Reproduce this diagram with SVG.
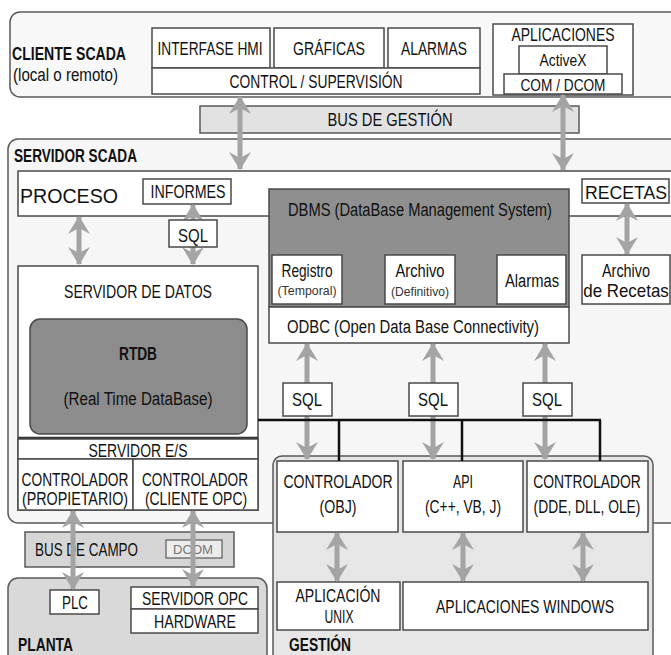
<svg xmlns="http://www.w3.org/2000/svg" width="671" height="655" viewBox="0 0 671 655">
<defs>
<style>
text{font-family:"Liberation Sans Narrow","Liberation Sans",Arial,sans-serif;font-size:18px;fill:#111}
.b{font-weight:bold}
.c{text-anchor:middle}
.s{font-size:13px;fill:#333}
.box{fill:#ffffff;stroke:#4a4a4a;stroke-width:1.5}
.panel{stroke:#5a5a5a;stroke-width:1.5}
.arr{stroke:#a4a4a4;stroke-width:5;fill:none;marker-start:url(#ah);marker-end:url(#ah)}
.bus{stroke:#111;stroke-width:2.5;fill:none}
</style>
<marker id="ah" viewBox="0 0 18 24" refX="17" refY="12" markerWidth="18" markerHeight="24" markerUnits="userSpaceOnUse" orient="auto-start-reverse">
<path d="M0,1 L18,12 L0,23 L6,12 z" fill="#a4a4a4"/>
</marker>
</defs>
<rect width="671" height="655" fill="#ffffff"/>

<g id="cliente-scada">
<rect class="panel" x="10" y="12" width="690" height="85" rx="10" fill="#f8f8f8"/>
<text class="b" x="12" y="60" textLength="114" lengthAdjust="spacingAndGlyphs">CLIENTE SCADA</text>
<text x="13" y="81" textLength="105" lengthAdjust="spacingAndGlyphs">(local o remoto)</text>
</g>
<g id="interfase-hmi">
<rect class="box" x="152" y="28" width="118" height="40"/>
<text class="c" x="210" y="55" textLength="105" lengthAdjust="spacingAndGlyphs">INTERFASE HMI</text>
</g>
<g id="graficas">
<rect class="box" x="274" y="28" width="110" height="40"/>
<text class="c" x="329" y="55" textLength="72" lengthAdjust="spacingAndGlyphs">GRÁFICAS</text>
</g>
<g id="alarmas-hmi">
<rect class="box" x="388" y="28" width="92" height="40"/>
<text class="c" x="434" y="55" textLength="66" lengthAdjust="spacingAndGlyphs">ALARMAS</text>
</g>
<g id="control-supervision">
<rect class="box" x="152" y="68" width="328" height="26"/>
<text class="c" x="316" y="88" textLength="173" lengthAdjust="spacingAndGlyphs">CONTROL / SUPERVISIÓN</text>
</g>
<g id="aplicaciones">
<rect class="box" x="493" y="24" width="140" height="71"/>
<text class="c" x="563" y="41" textLength="103" lengthAdjust="spacingAndGlyphs">APLICACIONES</text>
<rect class="box" x="519" y="46" width="88" height="28"/>
<text class="c" x="563" y="66" style="font-size:16px" textLength="47" lengthAdjust="spacingAndGlyphs">ActiveX</text>
<rect class="box" x="504" y="74" width="118" height="20"/>
<text class="c" x="563" y="91" style="font-size:16px" textLength="85" lengthAdjust="spacingAndGlyphs">COM / DCOM</text>
</g>

<g id="bus-gestion">
<rect x="200" y="106" width="379" height="27" fill="#e2e2e2" stroke="#5a5a5a" stroke-width="1.5"/>
<text class="c" x="390" y="126" textLength="125" lengthAdjust="spacingAndGlyphs">BUS DE GESTIÓN</text>
</g>

<g id="servidor-scada">
<rect class="panel" x="8" y="139" width="700" height="384" rx="10" fill="#f6f6f6"/>
<text class="b" x="14" y="162" textLength="123" lengthAdjust="spacingAndGlyphs">SERVIDOR SCADA</text>
</g>
<g id="proceso">
<rect class="box" x="18" y="171" width="680" height="45"/>
<text x="20" y="203" style="font-family:'Liberation Sans',Arial,sans-serif;font-size:21px" textLength="98" lengthAdjust="spacingAndGlyphs">PROCESO</text>
</g>
<g id="informes">
<rect class="box" x="143" y="179" width="88" height="25"/>
<text class="c" x="188" y="198" textLength="75" lengthAdjust="spacingAndGlyphs">INFORMES</text>
</g>
<g id="recetas">
<rect class="box" x="582" y="179" width="87" height="24"/>
<text class="c" x="626" y="199" textLength="82" lengthAdjust="spacingAndGlyphs">RECETAS</text>
</g>
<g id="archivo-recetas">
<rect class="box" x="582" y="255" width="88" height="49"/>
<text class="c" x="626" y="277" textLength="48" lengthAdjust="spacingAndGlyphs">Archivo</text>
<text class="c" transform="translate(626,297) scale(0.93,1)" x="0" y="0" textLength="92" lengthAdjust="spacingAndGlyphs">de Recetas</text>
</g>

<g id="dbms">
<rect x="269" y="189" width="300" height="118" fill="#8f8f8f" stroke="#4a4a4a" stroke-width="1.5"/>
<text class="c" x="420" y="216" textLength="264" lengthAdjust="spacingAndGlyphs">DBMS (DataBase Management System)</text>
</g>
<g id="registro">
<rect class="box" x="272" y="255" width="70" height="49"/>
<text class="c" x="307" y="277" textLength="51" lengthAdjust="spacingAndGlyphs">Registro</text>
<text class="c s" x="307" y="295" textLength="59" lengthAdjust="spacingAndGlyphs">(Temporal)</text>
</g>
<g id="archivo">
<rect class="box" x="385" y="255" width="70" height="49"/>
<text class="c" x="420" y="277" textLength="49" lengthAdjust="spacingAndGlyphs">Archivo</text>
<text class="c s" x="420" y="296" textLength="58" lengthAdjust="spacingAndGlyphs">(Definitivo)</text>
</g>
<g id="alarmas-db">
<rect class="box" x="497" y="255" width="69" height="49"/>
<text class="c" x="532" y="287" textLength="54" lengthAdjust="spacingAndGlyphs">Alarmas</text>
</g>
<g id="odbc">
<rect class="box" x="269" y="307" width="300" height="36"/>
<text class="c" x="413" y="333" textLength="252" lengthAdjust="spacingAndGlyphs">ODBC (Open Data Base Connectivity)</text>
</g>

<g id="servidor-datos">
<rect class="box" x="18" y="266" width="240" height="244"/>
<text class="c" x="138" y="298" textLength="148" lengthAdjust="spacingAndGlyphs">SERVIDOR DE DATOS</text>
</g>
<g id="rtdb">
<rect x="30" y="319" width="217" height="115" rx="10" fill="#8c8c8c" stroke="#4a4a4a" stroke-width="1.5"/>
<text class="c b" x="138" y="360" textLength="38" lengthAdjust="spacingAndGlyphs">RTDB</text>
<text class="c" x="138" y="405" textLength="149" lengthAdjust="spacingAndGlyphs">(Real Time DataBase)</text>
</g>
<g id="servidor-es">
<line x1="18" y1="438" x2="258" y2="438" stroke="#333" stroke-width="2.5"/>
<rect class="box" x="18" y="439" width="240" height="20"/>
<text class="c" x="138" y="457" textLength="99" lengthAdjust="spacingAndGlyphs">SERVIDOR E/S</text>
</g>
<g id="controlador-propietario">
<rect class="box" x="18" y="459" width="115" height="51"/>
<text class="c" transform="translate(75,486) scale(0.78,1)" x="0" y="0" textLength="137" lengthAdjust="spacingAndGlyphs">CONTROLADOR</text>
<text class="c" transform="translate(75,505) scale(0.78,1)" x="0" y="0" textLength="136" lengthAdjust="spacingAndGlyphs">(PROPIETARIO)</text>
</g>
<g id="controlador-cliente-opc">
<rect class="box" x="133" y="459" width="125" height="51"/>
<text class="c" transform="translate(195,486) scale(0.78,1)" x="0" y="0" textLength="136" lengthAdjust="spacingAndGlyphs">CONTROLADOR</text>
<text class="c" transform="translate(196,505) scale(0.78,1)" x="0" y="0" textLength="131" lengthAdjust="spacingAndGlyphs">(CLIENTE OPC)</text>
</g>

<g id="gestion">
<rect class="panel" x="273" y="456" width="380" height="210" rx="9" fill="#e6e6e6"/>
<text class="b" x="289" y="651" textLength="62" lengthAdjust="spacingAndGlyphs">GESTIÓN</text>
</g>
<g id="controlador-obj">
<rect class="box" x="277" y="461" width="121" height="71"/>
<text class="c" transform="translate(338,488) scale(0.78,1)" x="0" y="0" textLength="140" lengthAdjust="spacingAndGlyphs">CONTROLADOR</text>
<text class="c" x="338" y="513" textLength="37" lengthAdjust="spacingAndGlyphs">(OBJ)</text>
</g>
<g id="api">
<rect class="box" x="403" y="461" width="120" height="71"/>
<text class="c" x="463" y="488" textLength="20" lengthAdjust="spacingAndGlyphs">API</text>
<text class="c" x="463" y="513" textLength="76" lengthAdjust="spacingAndGlyphs">(C++, VB, J)</text>
</g>
<g id="controlador-dde">
<rect class="box" x="527" y="461" width="121" height="71"/>
<text class="c" transform="translate(587,488) scale(0.78,1)" x="0" y="0" textLength="138" lengthAdjust="spacingAndGlyphs">CONTROLADOR</text>
<text class="c" transform="translate(587,513) scale(0.78,1)" x="0" y="0" textLength="137" lengthAdjust="spacingAndGlyphs">(DDE, DLL, OLE)</text>
</g>
<g id="aplicacion-unix">
<rect class="box" x="277" y="582" width="123" height="48"/>
<text class="c" x="338" y="602" textLength="85" lengthAdjust="spacingAndGlyphs">APLICACIÓN</text>
<text class="c" x="339" y="623" textLength="29" lengthAdjust="spacingAndGlyphs">UNIX</text>
</g>
<g id="aplicaciones-windows">
<rect class="box" x="403" y="582" width="245" height="48"/>
<text class="c" x="525" y="613" textLength="178" lengthAdjust="spacingAndGlyphs">APLICACIONES WINDOWS</text>
</g>

<g id="planta">
<rect class="panel" x="8" y="578" width="259" height="90" rx="10" fill="#d9d9d9"/>
<text class="b" x="18" y="651" textLength="55" lengthAdjust="spacingAndGlyphs">PLANTA</text>
</g>
<g id="plc">
<rect class="box" x="50" y="590" width="49" height="24"/>
<text class="c" x="75" y="609" textLength="26" lengthAdjust="spacingAndGlyphs">PLC</text>
</g>
<g id="servidor-opc">
<rect class="box" x="131" y="587" width="127" height="22"/>
<text class="c" x="195" y="605" textLength="106" lengthAdjust="spacingAndGlyphs">SERVIDOR OPC</text>
</g>
<g id="hardware">
<rect class="box" x="131" y="609" width="127" height="24"/>
<text class="c" x="195" y="628" textLength="82" lengthAdjust="spacingAndGlyphs">HARDWARE</text>
</g>

<g id="bus-campo">
<rect x="25" y="532" width="209" height="35" fill="#d6d6d6" stroke="#5a5a5a" stroke-width="1.5"/>
<text x="35" y="556" textLength="103" lengthAdjust="spacingAndGlyphs">BUS DE CAMPO</text>
<rect x="166" y="540" width="56" height="18" fill="#ececec" stroke="#5a5a5a" stroke-width="1.2"/>
<text class="c" x="193" y="554" style="font-size:13px;fill:#777" textLength="40" lengthAdjust="spacingAndGlyphs">DCOM</text>
</g>

<g id="connectors">
<line class="arr" x1="240" y1="97" x2="240" y2="169"/>
<line class="arr" x1="563" y1="95" x2="563" y2="170"/>
<line class="arr" x1="79" y1="217" x2="79" y2="264"/>
<line class="arr" x1="193" y1="205" x2="193" y2="264"/>
<line class="arr" x1="627" y1="204" x2="627" y2="254"/>
<line class="arr" x1="307" y1="344" x2="307" y2="459"/>
<line class="arr" x1="433" y1="344" x2="433" y2="459"/>
<line class="arr" x1="545" y1="344" x2="545" y2="459"/>
<line class="arr" x1="337" y1="533" x2="337" y2="581"/>
<line class="arr" x1="463" y1="533" x2="463" y2="581"/>
<line class="arr" x1="583" y1="533" x2="583" y2="581"/>
<line class="arr" x1="73" y1="511" x2="73" y2="589"/>
<line class="arr" x1="193" y1="511" x2="193" y2="586"/>
<polyline class="bus" points="258,420 601,420"/>
<line class="bus" x1="339" y1="420" x2="339" y2="461"/>
<line class="bus" x1="462" y1="420" x2="462" y2="461"/>
<line class="bus" x1="600" y1="420" x2="600" y2="461"/>
</g>

<g id="sql-informes">
<rect class="box" x="169" y="220" width="48" height="27"/>
<text class="c" x="193" y="242" textLength="30" lengthAdjust="spacingAndGlyphs">SQL</text>
</g>
<g id="sql-1">
<rect class="box" x="283" y="383" width="49" height="33"/>
<text class="c" x="307" y="406" textLength="30" lengthAdjust="spacingAndGlyphs">SQL</text>
</g>
<g id="sql-2">
<rect class="box" x="409" y="383" width="49" height="33"/>
<text class="c" x="433" y="406" textLength="30" lengthAdjust="spacingAndGlyphs">SQL</text>
</g>
<g id="sql-3">
<rect class="box" x="523" y="383" width="49" height="33"/>
<text class="c" x="547" y="406" textLength="30" lengthAdjust="spacingAndGlyphs">SQL</text>
</g>
</svg>
